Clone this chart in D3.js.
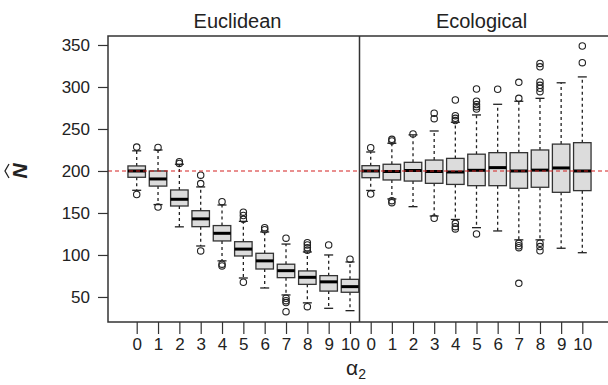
<!DOCTYPE html>
<html><head><meta charset="utf-8">
<script src="https://cdn.jsdelivr.net/npm/d3@7"></script>
<style>body{margin:0;background:#fff}svg{display:block}text{font-family:"Liberation Sans",Arial,sans-serif;fill:#222}</style>
</head><body><svg id="c" width="608" height="385"></svg>
<script>
const categories = ["0","1","2","3","4","5","6","7","8","9","10"];
const yTicks = [50,100,150,200,250,300,350];
const panelTitles = ["Euclidean","Ecological"];
const refValue = 200;

const eucLo  = [177, 160, 133.5, 110.7, 93, 72.6, 60.7, 52.4, 43, 36.5, 33.7];
const eucQ1  = [192.5, 182, 158.3, 133.7, 116.7, 98.8, 83.3, 73, 65, 57, 55.6];
const eucMed = [200, 190.5, 166.3, 143, 125.8, 107, 93, 81.3, 73.4, 68, 62.3];
const eucQ3  = [206, 200, 177.4, 152.7, 135, 115.8, 102, 89, 81, 75.4, 71];
const eucHi  = [224, 225, 208, 181, 159.5, 140, 127.4, 113, 103.6, 100, 91.7];
const eucOut = [[228.5,172],[228,157],[211,209],[195,185,104.8],[163.5,89,87],[151,147,142.5,67.5],[132.5,130],[120,48.5,45.6,43.3,32.5],[114.6,112,108.7,105.6,38.5],[112],[94.9]];

const ecoLo  = [176.8, 166.7, 157.5, 146.4, 142.3, 132.5, 128.6, 118, 118, 108, 102.7];
const ecoQ1  = [192, 189.3, 188, 185.3, 184, 182.5, 182.5, 179.4, 180.6, 174.6, 176.6];
const ecoMed = [200, 199.4, 200.6, 199.4, 198.8, 200.8, 204, 200, 201, 203.6, 200];
const ecoQ3  = [206.3, 208, 210.3, 213, 215, 220, 221.8, 221.8, 225, 232, 233.7];
const ecoHi  = [222.6, 233, 243, 247.6, 258, 266.7, 279.4, 283, 286.5, 305, 312];
const ecoOut = [[227.7,172.6],[237.7,235.7,164.7,162.3],[244],[268.7,262.3,143.7],[284.5,265.8,262.7,260,137.7,133.7,131],[297.6,283,279,276.5,273.8,125],[297.3],[305.6,286.5,113.9,111,108.7,66.3],[328,324,306,302,298.4,294.4,114,110,105],[],[348.8,329]];

const svg = d3.select("#c");
const pTop = 36, pBottom = 322, pLeft = 108, pMid = 359.5, pRight = 611;
const y = d3.scaleLinear().domain([20.2, 360.7]).range([pBottom, pTop]);

const panels = [
  {title: panelTitles[0], lo:eucLo,q1:eucQ1,med:eucMed,q3:eucQ3,hi:eucHi,out:eucOut, x: d3.scalePoint().domain(categories).range([136.7,350]), tx:237.5},
  {title: panelTitles[1], lo:ecoLo,q1:ecoQ1,med:ecoMed,q3:ecoQ3,hi:ecoHi,out:ecoOut, x: d3.scalePoint().domain(categories).range([370.7,582.3]), tx:481.5}
];
const bw = 17.5;
const stroke = "#333";

panels.forEach(p => {
  const g = svg.append("g");
  categories.forEach((c,i) => {
    const cx = p.x(c);
    g.append("line").attr("x1",cx).attr("x2",cx).attr("y1",y(p.q3[i])).attr("y2",y(p.hi[i]))
      .attr("stroke","#222").attr("stroke-width",1.3).attr("stroke-dasharray","3,3");
    g.append("line").attr("x1",cx).attr("x2",cx).attr("y1",y(p.q1[i])).attr("y2",y(p.lo[i]))
      .attr("stroke","#222").attr("stroke-width",1.3).attr("stroke-dasharray","3,3");
    [p.hi[i],p.lo[i]].forEach(v => g.append("line").attr("x1",cx-4.5).attr("x2",cx+4.5)
      .attr("y1",y(v)).attr("y2",y(v)).attr("stroke","#222").attr("stroke-width",1.3));
    g.append("rect").attr("x",cx-bw/2).attr("width",bw).attr("y",y(p.q3[i]))
      .attr("height",y(p.q1[i])-y(p.q3[i])).attr("fill","#dcdcdc").attr("stroke",stroke).attr("stroke-width",1.3);
    g.append("line").attr("x1",cx-bw/2).attr("x2",cx+bw/2).attr("y1",y(p.med[i])).attr("y2",y(p.med[i]))
      .attr("stroke","#000").attr("stroke-width",3);
    p.out[i].forEach(v => g.append("circle").attr("cx",cx).attr("cy",y(v)).attr("r",3.2)
      .attr("fill","none").attr("stroke","#222").attr("stroke-width",1.1));
  });
  const ax = svg.append("g").attr("transform",`translate(0,${pBottom})`)
    .call(d3.axisBottom(p.x).tickSize(12).tickPadding(4));
  ax.select(".domain").remove();
  ax.selectAll("line").attr("stroke","#333").attr("stroke-width",1.2);
  ax.selectAll("text").attr("font-size",17).attr("fill","#222").style("font-family","Liberation Sans, Arial, sans-serif");
  svg.append("text").attr("x",p.tx).attr("y",28).attr("text-anchor","middle").attr("font-size",20).text(p.title);
});

svg.append("line").attr("x1",pLeft).attr("x2",608).attr("y1",y(refValue)).attr("y2",y(refValue))
  .attr("stroke","#d42020").attr("stroke-width",1.1).attr("stroke-dasharray","4,3");

svg.append("rect").attr("x",pLeft).attr("y",pTop).attr("width",pRight-pLeft).attr("height",pBottom-pTop)
  .attr("fill","none").attr("stroke","#333").attr("stroke-width",1.5);
svg.append("line").attr("x1",pMid).attr("x2",pMid).attr("y1",pTop).attr("y2",pBottom).attr("stroke","#333").attr("stroke-width",1.5);

const ay = svg.append("g").attr("transform",`translate(${pLeft},0)`)
  .call(d3.axisLeft(y).tickValues(yTicks).tickSize(10).tickPadding(8));
ay.select(".domain").remove();
ay.selectAll("line").attr("stroke","#333").attr("stroke-width",1.2);
ay.selectAll("text").attr("font-size",17).attr("fill","#222").style("font-family","Liberation Sans, Arial, sans-serif");

const xl = svg.append("text").attr("x",356).attr("y",375).attr("text-anchor","middle").attr("font-size",21);
xl.append("tspan").text("α");
xl.append("tspan").attr("font-size",14).attr("dy",4).text("2");

const yl = svg.append("g").attr("transform",`translate(27,${y(refValue)}) rotate(-90)`);
yl.append("text").attr("x",0).attr("y",0).attr("text-anchor","middle").attr("font-size",21)
  .attr("font-style","italic").attr("font-weight","bold").text("N");
yl.append("path").attr("d","M-7,-18 L0,-22 L7,-18").attr("fill","none").attr("stroke","#222").attr("stroke-width",1.3);
</script></body></html>
